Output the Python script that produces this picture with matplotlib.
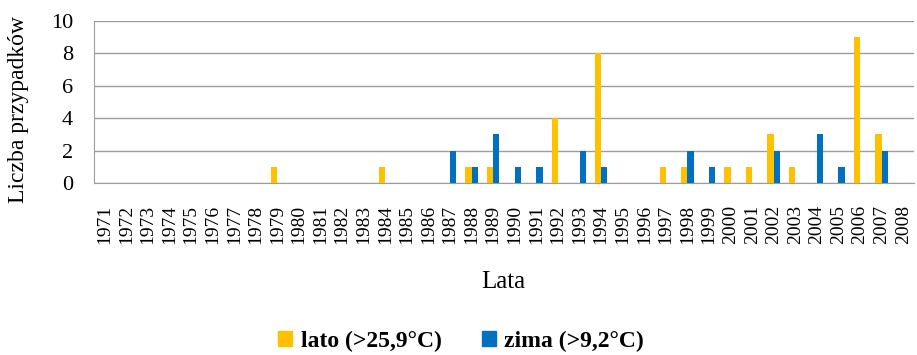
import numpy as np
import matplotlib
matplotlib.use("Agg")
import matplotlib.pyplot as plt
from matplotlib.patches import Patch

plt.rcParams['font.family'] = ['Liberation Serif', 'DejaVu Serif']

years = list(range(1971, 2009))

# liczba przypadków w danym roku (pozostałe lata = 0)
lato_counts = {1979: 1, 1984: 1, 1988: 1, 1989: 1, 1992: 4, 1994: 8, 1997: 1,
               1998: 1, 2000: 1, 2001: 1, 2002: 3, 2003: 1, 2006: 9, 2007: 3}
zima_counts = {1987: 2, 1988: 1, 1989: 3, 1990: 1, 1991: 1, 1993: 2, 1994: 1,
               1998: 2, 1999: 1, 2002: 2, 2004: 3, 2005: 1, 2007: 2}

lato = [lato_counts.get(y, 0) for y in years]
zima = [zima_counts.get(y, 0) for y in years]

yellow = "#FFC000"
blue = "#0070C0"

fig = plt.figure(figsize=(9.17, 3.55), dpi=100)
ax = fig.add_axes([0.1025, 0.4845, 0.8942, 0.4563])

x = np.arange(len(years))
w = 0.29
ax.bar(x - w / 2, lato, width=w, color=yellow, zorder=3)
ax.bar(x + w / 2, zima, width=w, color=blue, zorder=3)

ax.set_xlim(-0.5, len(years) - 0.5)
ax.set_ylim(0, 10)
ax.set_yticks(range(0, 11, 2))
ax.set_xticks(x)
ax.set_xticklabels([str(y) for y in years], rotation=90, fontsize=14)
ax.tick_params(axis='x', length=0, pad=16)
ax.tick_params(axis='y', length=0, pad=15, labelsize=16)

ax.grid(axis='y', color='#9d9d9d', linewidth=1.0, zorder=0)
for s in ['top', 'right']:
    ax.spines[s].set_visible(False)
ax.spines['left'].set_color('#9d9d9d')
ax.spines['bottom'].set_color('#9d9d9d')

fig.text(19 / 917, 1 - 110 / 355, "Liczba przypadków", rotation=90,
         ha='center', va='center', fontsize=17)
fig.text(503 / 917, 1 - 282 / 355, "Lata", ha='center', va='center', fontsize=18)

handles = [Patch(color=yellow, label="lato (>25,9°C)"),
           Patch(color=blue, label="zima (>9,2°C)")]
fig.legend(handles=handles, loc='center', bbox_to_anchor=(461 / 917, 1 - 341 / 355),
           ncol=2, frameon=False, handlelength=0.6, handleheight=0.6,
           handletextpad=0.35, columnspacing=1.7,
           prop={'weight': 'bold', 'size': 17})

fig.savefig("out.png", dpi=100)
